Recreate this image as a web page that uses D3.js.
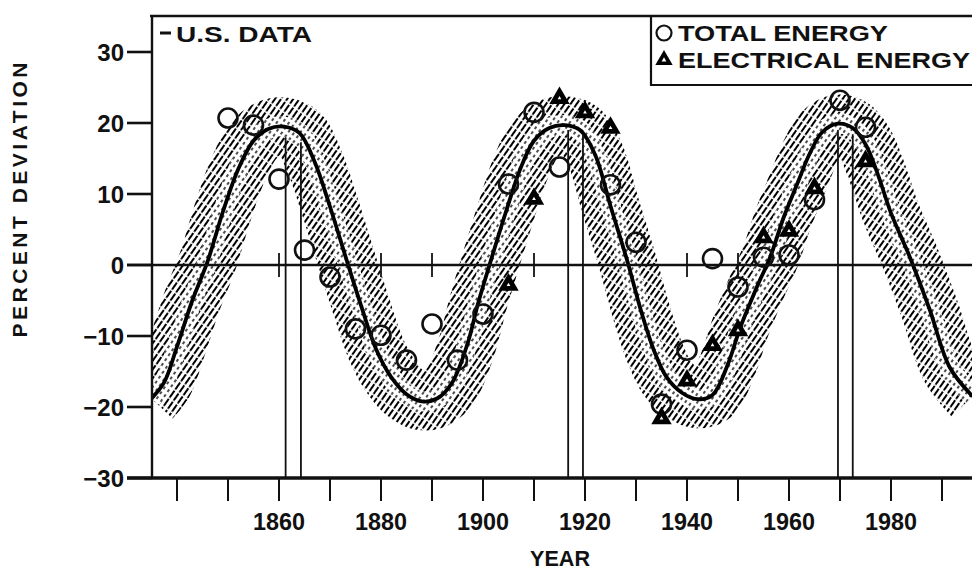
<!DOCTYPE html>
<html>
<head>
<meta charset="utf-8">
<script src="https://cdn.jsdelivr.net/npm/d3@7"></script>
<style>
body{margin:0;background:#fff}
svg{display:block}
text{font-family:"Liberation Sans",Arial,sans-serif;font-weight:bold;fill:#111}
</style>
</head>
<body>
<svg id="chart" width="972" height="573"></svg>
<script>
// fitted long wave (year, percent deviation)
var curveYears  = [1835, 1837.5, 1840, 1843, 1846, 1849, 1852, 1855, 1858, 1861, 1864, 1867, 1870, 1873.3, 1876, 1879, 1882, 1885, 1888, 1891, 1894, 1897, 1899, 1901.4, 1904.5, 1907.3, 1910, 1913, 1916, 1919, 1922, 1925, 1928.2, 1931, 1933.5, 1936, 1939, 1942, 1945, 1948, 1950.5, 1953.7, 1956.3, 1959, 1961.6, 1964, 1966.5, 1969.5, 1972.5, 1975, 1977.5, 1980, 1983.7, 1987.6, 1991.5, 1996];
var curveValues = [-18.8, -16.5, -11.5, -5.0, 0.5, 7.5, 13.5, 17.5, 19.2, 19.5, 18.6, 14.5, 8.2, 0.6, -5.5, -11.8, -15.8, -18.2, -19.2, -18.8, -16.5, -11.0, -5.5, 0.3, 7.5, 13.5, 17.5, 19.3, 19.7, 19.0, 15.5, 8.3, 0.8, -6.5, -12.0, -15.8, -18.0, -18.9, -18.3, -14.0, -8.7, -3.1, 1.1, 6.8, 11.4, 15.6, 18.7, 19.9, 19.3, 17.0, 12.6, 7.3, 1.1, -6.3, -14.4, -18.5];

// total energy (circles)
var totalYears  = [1850, 1855, 1860, 1865, 1870, 1875, 1880, 1885, 1890, 1895, 1900, 1905, 1910, 1915, 1925, 1930, 1935, 1940, 1945, 1950, 1955, 1960, 1965, 1970, 1975];
var totalValues = [20.7, 19.7, 12.1, 2.1, -1.7, -9.0, -9.9, -13.4, -8.3, -13.4, -6.9, 11.4, 21.5, 13.8, 11.3, 3.2, -19.6, -12.0, 0.9, -3.1, 1.1, 1.4, 9.2, 23.2, 19.4];

// electrical energy (triangles)
var elecYears  = [1905, 1910, 1915, 1920, 1925, 1935, 1940, 1945, 1950, 1955, 1960, 1965, 1975];
var elecValues = [-2.8, 9.3, 23.5, 21.5, 19.3, -21.6, -16.3, -11.3, -9.2, 3.9, 4.8, 10.8, 14.6];

// vertical peak markers (pairs of years) and where they start
var markYears = [1861.3, 1864.3, 1916.7, 1919.6, 1969.6, 1972.5];
var markTops  = [18.0, 17.3, 19.0, 18.4, 19.0, 18.4];

var yTicks = [30, 20, 10, 0, -10, -20, -30];
var xTicks = [1840, 1850, 1860, 1870, 1880, 1890, 1900, 1910, 1920, 1930, 1940, 1950, 1960, 1970, 1980, 1990];
var xLabels = [1860, 1880, 1900, 1920, 1940, 1960, 1980];
var zeroTicks = [1860, 1880, 1890, 1910, 1940, 1950];

var svg = d3.select("#chart");
var x = d3.scaleLinear().domain([1840, 1990]).range([177, 942]);
var y = d3.scaleLinear().domain([-30, 30]).range([478, 52]);
var plotLeft = 152, plotTop = 16, plotRight = 972;

var defs = svg.append("defs");
defs.append("clipPath").attr("id", "plotclip")
  .append("rect").attr("x", plotLeft + 1).attr("y", plotTop + 1)
  .attr("width", plotRight - plotLeft).attr("height", y(-30) - plotTop - 2);

// dense diagonal hatching of the band
var hatch = defs.append("pattern").attr("id", "hatch")
  .attr("patternUnits", "userSpaceOnUse").attr("width", 5).attr("height", 10)
  .attr("patternTransform", "rotate(35)");
hatch.append("line").attr("x1", 2).attr("y1", 0).attr("x2", 2).attr("y2", 8.5)
  .attr("stroke", "#000").attr("stroke-width", 2);

// lighter broken hatching next to the curve
var light = defs.append("pattern").attr("id", "light")
  .attr("patternUnits", "userSpaceOnUse").attr("width", 5).attr("height", 6)
  .attr("patternTransform", "rotate(35)");
light.append("line").attr("x1", 2).attr("y1", 0).attr("x2", 2).attr("y2", 3)
  .attr("stroke", "#111").attr("stroke-width", 1.5);

var curve = curveYears.map(function(d, i) { return [d, curveValues[i]]; });
var line = d3.line().x(function(d) { return x(d[0]); }).y(function(d) { return y(d[1]); })
  .curve(d3.curveCatmullRom);

var plot = svg.append("g").attr("clip-path", "url(#plotclip)");

// shaded band
plot.append("path").attr("d", line(curve)).attr("fill", "none")
  .attr("stroke", "url(#hatch)").attr("stroke-width", 58);
plot.append("path").attr("d", line(curve)).attr("fill", "none")
  .attr("stroke", "#fff").attr("stroke-width", 20);
plot.append("path").attr("d", line(curve)).attr("fill", "none")
  .attr("stroke", "url(#light)").attr("stroke-width", 20);

// zero line with its little crossing ticks
svg.append("line").attr("x1", 127).attr("x2", plotRight).attr("y1", y(0)).attr("y2", y(0))
  .attr("stroke", "#111").attr("stroke-width", 2.6);
svg.selectAll(".zt").data(zeroTicks).enter().append("line")
  .attr("x1", function(d) { return x(d); }).attr("x2", function(d) { return x(d); })
  .attr("y1", y(0) - 12).attr("y2", y(0) + 12)
  .attr("stroke", "#111").attr("stroke-width", 1.8);

// peak marker lines
svg.selectAll(".mk").data(markYears).enter().append("line")
  .attr("x1", function(d) { return x(d); }).attr("x2", function(d) { return x(d); })
  .attr("y1", function(d, i) { return y(markTops[i]); }).attr("y2", y(-30))
  .attr("stroke", "#111").attr("stroke-width", 1.8);

// fitted curve
plot.append("path").attr("d", line(curve)).attr("fill", "none")
  .attr("stroke", "#000").attr("stroke-width", 3.8);

// data points
plot.selectAll(".tot").data(totalYears).enter().append("circle")
  .attr("cx", function(d) { return x(d); })
  .attr("cy", function(d, i) { return y(totalValues[i]); })
  .attr("r", 9.5).attr("fill", "none").attr("stroke", "#111").attr("stroke-width", 2.6);

var tri = d3.symbol().type(d3.symbolTriangle);
var el = plot.selectAll(".el").data(elecYears).enter().append("g")
  .attr("transform", function(d, i) { return "translate(" + x(d) + "," + y(elecValues[i]) + ")"; });
el.append("path").attr("d", tri.size(180)()).attr("fill", "#000");
el.append("path").attr("d", tri.size(6)()).attr("fill", "#fff");

// frame
svg.append("line").attr("x1", plotLeft - 2).attr("x2", plotRight).attr("y1", plotTop).attr("y2", plotTop)
  .attr("stroke", "#111").attr("stroke-width", 2.6);
svg.append("line").attr("x1", plotLeft).attr("x2", plotLeft).attr("y1", plotTop - 1).attr("y2", y(-30))
  .attr("stroke", "#111").attr("stroke-width", 2.4);
svg.append("line").attr("x1", 127).attr("x2", plotRight).attr("y1", y(-30)).attr("y2", y(-30))
  .attr("stroke", "#111").attr("stroke-width", 3.4);

// y axis
svg.selectAll(".yt").data(yTicks).enter().append("line")
  .attr("x1", 127).attr("x2", plotLeft).attr("y1", function(d) { return y(d); }).attr("y2", function(d) { return y(d); })
  .attr("stroke", "#111").attr("stroke-width", 2.6);
svg.selectAll(".yl").data(yTicks).enter().append("text")
  .attr("x", 124).attr("y", function(d) { return y(d) + 8.5; })
  .attr("text-anchor", "end").attr("font-size", 24)
  .text(function(d) { return d < 0 ? "\u2212" + Math.abs(d) : d; });
svg.append("text").attr("transform", "translate(27,200) rotate(-90)")
  .attr("text-anchor", "middle").attr("font-size", 21)
  .attr("textLength", 275).attr("lengthAdjust", "spacing")
  .text("PERCENT DEVIATION");

// x axis
svg.selectAll(".xt").data(xTicks).enter().append("line")
  .attr("x1", function(d) { return x(d); }).attr("x2", function(d) { return x(d); })
  .attr("y1", y(-30)).attr("y2", y(-30) + 23)
  .attr("stroke", "#111").attr("stroke-width", 2);
svg.selectAll(".xl").data(xLabels).enter().append("text")
  .attr("x", function(d) { return x(d); }).attr("y", 530)
  .attr("text-anchor", "middle").attr("font-size", 24)
  .attr("textLength", 52).attr("lengthAdjust", "spacingAndGlyphs")
  .text(function(d) { return d; });
svg.append("text").attr("x", 560).attr("y", 566)
  .attr("text-anchor", "middle").attr("font-size", 22)
  .attr("textLength", 60).attr("lengthAdjust", "spacingAndGlyphs")
  .text("YEAR");

// "U.S. DATA" note
svg.append("line").attr("x1", 160).attr("x2", 171).attr("y1", 33).attr("y2", 33)
  .attr("stroke", "#111").attr("stroke-width", 3);
svg.append("text").attr("x", 176).attr("y", 42).attr("font-size", 22)
  .attr("textLength", 136).attr("lengthAdjust", "spacingAndGlyphs")
  .text("U.S. DATA");

// legend box
svg.append("path").attr("d", "M651," + plotTop + "V85H" + plotRight)
  .attr("fill", "none").attr("stroke", "#111").attr("stroke-width", 2.2);
svg.append("circle").attr("cx", 664).attr("cy", 33).attr("r", 7.5)
  .attr("fill", "none").attr("stroke", "#111").attr("stroke-width", 2.2);
svg.append("text").attr("x", 678).attr("y", 41).attr("font-size", 22)
  .attr("textLength", 210).attr("lengthAdjust", "spacingAndGlyphs")
  .text("TOTAL ENERGY");
var lg = svg.append("g").attr("transform", "translate(664,60)");
lg.append("path").attr("d", tri.size(130)()).attr("fill", "#000");
lg.append("path").attr("d", tri.size(10)()).attr("fill", "#fff");
svg.append("text").attr("x", 678).attr("y", 68).attr("font-size", 22)
  .attr("textLength", 292).attr("lengthAdjust", "spacingAndGlyphs")
  .text("ELECTRICAL ENERGY");
</script>
</body>
</html>
